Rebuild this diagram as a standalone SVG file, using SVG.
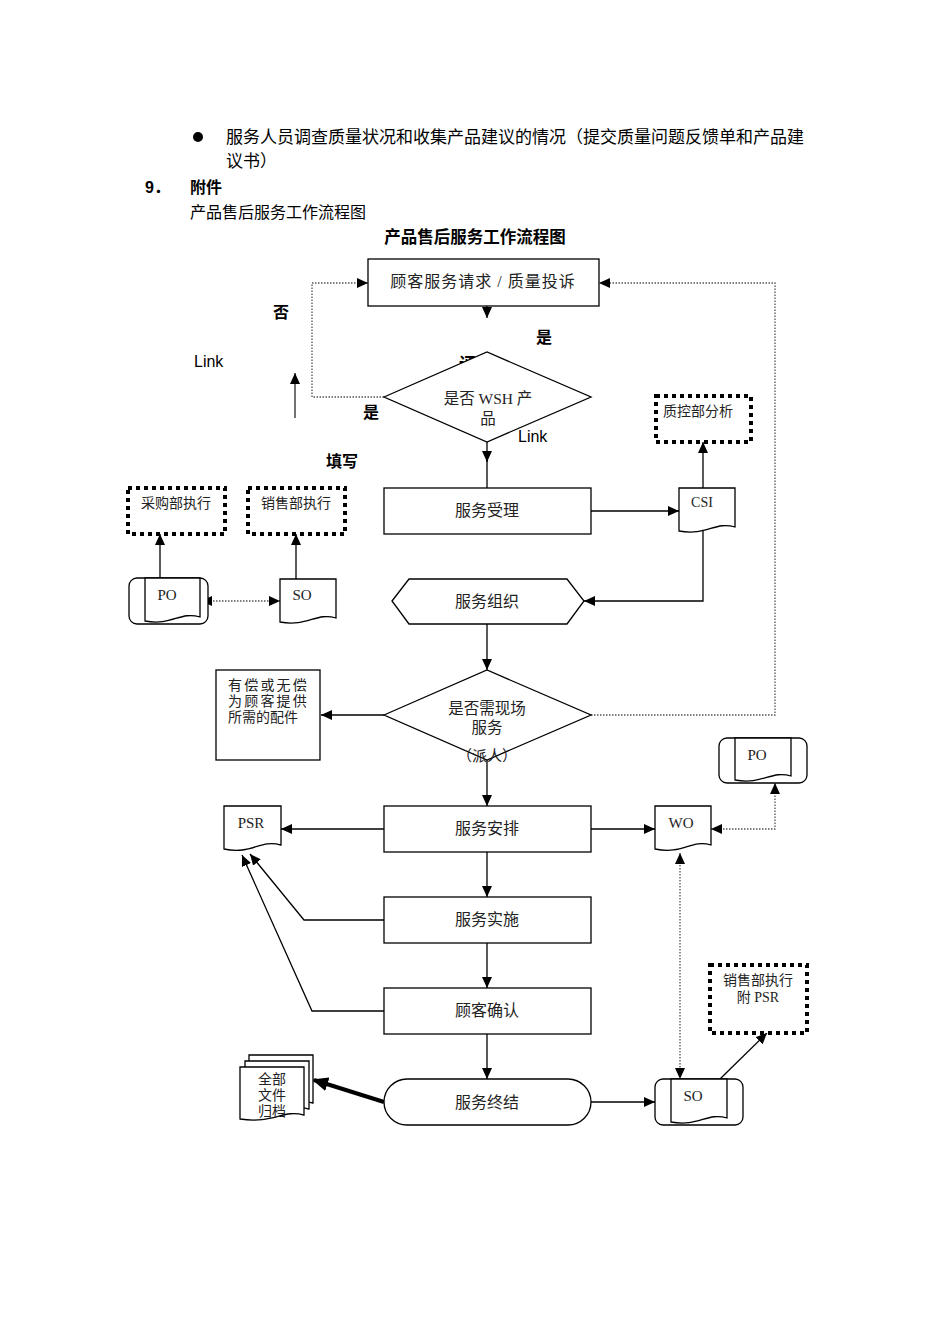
<svg xmlns="http://www.w3.org/2000/svg" width="950" height="1344" viewBox="0 0 950 1344">
<defs>
<style>
.pg{font-family:"Liberation Sans","Noto Sans CJK SC",sans-serif;fill:#000}
.b{font-weight:bold}
.nt{font-family:"Liberation Serif","Noto Sans CJK SC",serif;fill:#222;text-anchor:middle}
.ns{font-family:"Liberation Serif","Noto Sans CJK SC",serif;fill:#222;text-anchor:start}
.box{fill:#fff;stroke:#000;stroke-width:1.3}
.dbox{fill:#fff;stroke:#000;stroke-width:4;stroke-dasharray:4 4}
.ln{fill:none;stroke:#000;stroke-width:1.3}
.dot{fill:none;stroke:#555;stroke-width:1.3;stroke-dasharray:1.5 1.5}
</style>
<marker id="ah" markerUnits="userSpaceOnUse" markerWidth="11" markerHeight="10" refX="11" refY="5" orient="auto-start-reverse"><path d="M0,0 L11,5 L0,10 z" fill="#000"/></marker>
<marker id="ahb" markerUnits="userSpaceOnUse" markerWidth="16" markerHeight="14" refX="14" refY="7" orient="auto"><path d="M0,0 L16,7 L0,14 z" fill="#000"/></marker>
</defs>
<rect width="950" height="1344" fill="#fff"/>

<!-- page text -->
<circle cx="198" cy="137" r="5" fill="#000"/>
<text class="pg" x="226" y="143" font-size="17">服务人员调查质量状况和收集产品建议的情况（提交质量问题反馈单和产品建</text>
<text class="pg" x="226" y="167" font-size="17">议书）</text>
<text class="pg b" x="145" y="193" font-size="16">9．</text>
<text class="pg b" x="190" y="193" font-size="16">附件</text>
<text class="pg" x="190" y="218" font-size="16">产品售后服务工作流程图</text>
<text class="pg b" x="475" y="243" font-size="16.5" text-anchor="middle">产品售后服务工作流程图</text>

<!-- free labels -->
<text class="pg b" x="273" y="318" font-size="16">否</text>
<text class="pg b" x="536" y="343" font-size="16">是</text>
<text class="pg" x="194" y="367" font-size="16">Link</text>
<text class="pg b" x="459" y="370" font-size="17">评</text>
<text class="pg b" x="363" y="418" font-size="16">是</text>
<text class="pg" x="518" y="442" font-size="16">Link</text>
<text class="pg b" x="326" y="467" font-size="16">填写</text>

<!-- connectors -->
<g id="connectors">
<line x1="295" y1="418" x2="295" y2="373" stroke="#444" stroke-width="1.5" marker-end="url(#ah)"/>
<line class="ln" x1="487" y1="306" x2="487" y2="318" marker-end="url(#ah)"/>
<polyline class="dot" points="384,397 312,397 312,283 368,283" marker-end="url(#ah)"/>
<polyline class="dot" points="591,715 775,715 775,283 599,283" marker-end="url(#ah)"/>
<line class="ln" x1="487" y1="442" x2="487" y2="462" marker-end="url(#ah)"/>
<line class="ln" x1="487" y1="460" x2="487" y2="488"/>
<line class="ln" x1="591" y1="511" x2="679" y2="511" marker-end="url(#ah)"/>
<line class="ln" x1="703" y1="488" x2="703" y2="442" marker-end="url(#ah)"/>
<polyline class="ln" points="703,531 703,601 584,601" marker-end="url(#ah)"/>
<line class="ln" x1="160" y1="578" x2="160" y2="534" marker-end="url(#ah)"/>
<line class="ln" x1="296" y1="579" x2="296" y2="534" marker-end="url(#ah)"/>
<line class="dot" x1="201" y1="601" x2="280" y2="601" marker-start="url(#ah)" marker-end="url(#ah)"/>
<line class="ln" x1="487" y1="624" x2="487" y2="670" marker-end="url(#ah)"/>
<line class="ln" x1="384" y1="715" x2="321" y2="715" marker-end="url(#ah)"/>
<line class="ln" x1="487" y1="760" x2="487" y2="806" marker-end="url(#ah)"/>
<line class="ln" x1="384" y1="829" x2="281" y2="829" marker-end="url(#ah)"/>
<line class="ln" x1="591" y1="829" x2="655" y2="829" marker-end="url(#ah)"/>
<polyline class="dot" points="711,829 775,829 775,783" marker-start="url(#ah)" marker-end="url(#ah)"/>
<line class="ln" x1="487" y1="852" x2="487" y2="897" marker-end="url(#ah)"/>
<polyline class="ln" points="384,920 304,920 250,854" marker-end="url(#ah)"/>
<line class="ln" x1="487" y1="943" x2="487" y2="988" marker-end="url(#ah)"/>
<polyline class="ln" points="384,1011 312,1011 242,855" marker-end="url(#ah)"/>
<line class="ln" x1="487" y1="1034" x2="487" y2="1079" marker-end="url(#ah)"/>
<line x1="384" y1="1102" x2="314" y2="1080" stroke="#000" stroke-width="4" marker-end="url(#ahb)"/>
<line class="ln" x1="591" y1="1102" x2="655" y2="1102" marker-end="url(#ah)"/>
<line class="dot" x1="680" y1="853" x2="680" y2="1079" marker-start="url(#ah)" marker-end="url(#ah)"/>
<line class="ln" x1="720" y1="1079" x2="767" y2="1033" marker-end="url(#ah)"/>
</g>

<!-- nodes -->
<g id="n-request">
<rect class="box" x="368" y="259" width="231" height="47"/>
<text class="nt" x="483" y="287" font-size="16" letter-spacing="1">顾客服务请求  /  质量投诉</text>
</g>
<g id="n-wsh">
<polygon class="box" points="384,397 487,352 591,397 487,442"/>
<text class="nt" x="488" y="404" font-size="15.5">是否 WSH 产</text>
<text class="nt" x="488" y="424" font-size="15.5">品</text>
</g>
<g id="n-accept">
<rect class="box" x="384" y="488" width="207" height="46"/>
<text class="nt" x="487" y="516" font-size="16">服务受理</text>
</g>
<g id="n-csi">
<path class="box" d="M679,488 H735 V527 C715,521 707,536 679,531 Z"/>
<text class="nt" x="702" y="507" font-size="14">CSI</text>
</g>
<g id="n-qc">
<rect class="dbox" x="656" y="396" width="95" height="46"/>
<text class="nt" x="698" y="416" font-size="14">质控部分析</text>
</g>
<g id="n-purchase">
<rect class="dbox" x="128" y="488" width="97" height="46"/>
<text class="nt" x="176" y="508" font-size="14">采购部执行</text>
</g>
<g id="n-sales1">
<rect class="dbox" x="248" y="488" width="97" height="46"/>
<text class="nt" x="296" y="508" font-size="14">销售部执行</text>
</g>
<g id="n-po1">
<rect class="box" x="129" y="578" width="79" height="46" rx="8"/>
<path class="box" d="M145,578 H200 V617 C180,611 172,626 145,621 Z"/>
<text class="nt" x="167" y="600" font-size="15">PO</text>
</g>
<g id="n-so1">
<path class="box" d="M280,579 H336 V618 C316,612 308,627 280,622 Z"/>
<text class="nt" x="302" y="600" font-size="15">SO</text>
</g>
<g id="n-organize">
<polygon class="box" points="392,601 409,579 567,579 584,601 567,624 409,624"/>
<text class="nt" x="487" y="607" font-size="16">服务组织</text>
</g>
<g id="n-onsite">
<polygon class="box" points="384,715 487,670 591,715 487,760"/>
<text class="nt" x="487" y="714" font-size="15.5">是否需现场</text>
<text class="nt" x="487" y="733" font-size="15.5">服务</text>
<text class="nt" x="487" y="761" font-size="15">（派人）</text>
</g>
<g id="n-parts">
<rect class="box" x="216" y="670" width="104" height="90"/>
<text class="ns" x="228" y="690" font-size="14" letter-spacing="2.2">有偿或无偿</text>
<text class="ns" x="228" y="706" font-size="14" letter-spacing="2.2">为顾客提供</text>
<text class="ns" x="228" y="722" font-size="14">所需的配件</text>
</g>
<g id="n-arrange">
<rect class="box" x="384" y="806" width="207" height="46"/>
<text class="nt" x="487" y="834" font-size="16">服务安排</text>
</g>
<g id="n-psr">
<path class="box" d="M224,806 H281 V845 C260,839 252,855 224,849 Z"/>
<text class="nt" x="251" y="828" font-size="15">PSR</text>
</g>
<g id="n-wo">
<path class="box" d="M655,806 H711 V845 C691,839 683,855 655,849 Z"/>
<text class="nt" x="681" y="828" font-size="15">WO</text>
</g>
<g id="n-po2">
<rect class="box" x="719" y="738" width="88" height="45" rx="8"/>
<path class="box" d="M735,738 H791 V776 C771,770 763,785 735,780 Z"/>
<text class="nt" x="757" y="760" font-size="15">PO</text>
</g>
<g id="n-implement">
<rect class="box" x="384" y="897" width="207" height="46"/>
<text class="nt" x="487" y="925" font-size="16">服务实施</text>
</g>
<g id="n-confirm">
<rect class="box" x="384" y="988" width="207" height="46"/>
<text class="nt" x="487" y="1016" font-size="16">顾客确认</text>
</g>
<g id="n-end">
<rect class="box" x="384" y="1079" width="207" height="46" rx="23"/>
<text class="nt" x="487" y="1108" font-size="16">服务终结</text>
</g>
<g id="n-archive">
<path class="box" d="M249,1055 H313 V1103 C292,1097 283,1112 249,1107 Z"/>
<path class="box" d="M245,1061 H309 V1109 C288,1103 279,1118 245,1113 Z"/>
<path class="box" d="M240,1067 H304 V1115 C283,1109 274,1124 240,1119 Z"/>
<text class="nt" x="272" y="1084" font-size="14">全部</text>
<text class="nt" x="272" y="1100" font-size="14">文件</text>
<text class="nt" x="272" y="1116" font-size="14">归档</text>
</g>
<g id="n-so2">
<rect class="box" x="655" y="1079" width="88" height="46" rx="8"/>
<path class="box" d="M671,1079 H727 V1118 C707,1112 699,1127 671,1122 Z"/>
<text class="nt" x="693" y="1101" font-size="15">SO</text>
</g>
<g id="n-sales2">
<rect class="dbox" x="710" y="965" width="97" height="68"/>
<text class="nt" x="758" y="985" font-size="14">销售部执行</text>
<text class="nt" x="758" y="1002" font-size="14">附 PSR</text>
</g>
</svg>
